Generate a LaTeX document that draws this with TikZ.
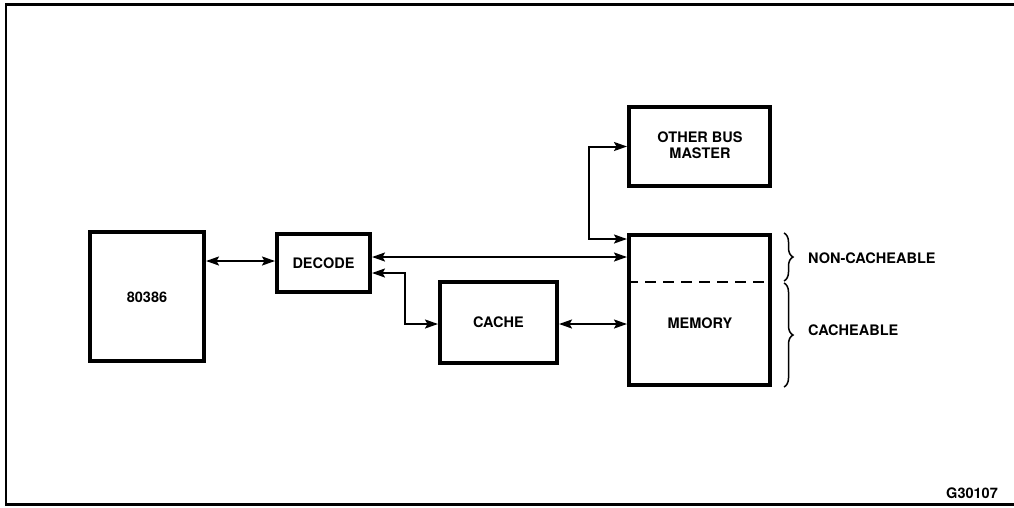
\documentclass[tikz,border=0pt]{standalone}
\usepackage{fontspec}
\setmainfont{TeX Gyre Heros}
\usetikzlibrary{arrows.meta,decorations.pathreplacing}
\tikzset{
  blk/.style={draw, line width=4pt, inner sep=0pt, align=center},
  conn/.style={line width=2pt, {Stealth[length=13pt,width=9pt,inset=2.5pt]}-{Stealth[length=13pt,width=9pt,inset=2.5pt]}},
  lbl/.style={font=\fontsize{14.5}{16.5}\selectfont\bfseries, inner sep=0pt, align=center},
  brc/.style={line width=1.5pt, decorate, decoration={brace, amplitude=9pt}},
  frame/.style={line width=2.8pt}
}
\begin{document}
\begin{tikzpicture}[x=1pt,y=-1pt]
\useasboundingbox (0,0) rectangle (1014,507);
\draw[frame] (1014,4.5) -- (6,4.5) -- (6,504.5) -- (1014,504.5);

\node[blk, minimum width=114pt, minimum height=129pt] (cpu) at (147,296.5) {};
\node[lbl] (cputxt) at (147,297) {80386};
\node[blk, minimum width=93pt, minimum height=58pt] (decode) at (323.5,263) {};
\node[lbl] (dectxt) at (323.5,263) {DECODE};
\node[blk, minimum width=117pt, minimum height=81pt] (cache) at (498.5,322.5) {};
\node[lbl] (cachetxt) at (498.5,322.5) {CACHE};
\node[blk, minimum width=141pt, minimum height=150pt] (mem) at (699.5,310) {};
\node[lbl] (memtxt) at (700,323) {MEMORY};
\node[blk, minimum width=141pt, minimum height=79pt] (obm) at (699.5,146.5) {};
\node[lbl] (obmtxt) at (700,145) {OTHER BUS\\MASTER};

\draw[line width=1.6pt, dash pattern=on 11pt off 7pt] ([yshift=-49pt]mem.north west) -- ([yshift=-49pt]mem.north east);

\draw[conn] ([yshift=2pt]decode.west) -- ([yshift=2pt]decode.west -| cpu.east);
\draw[conn] ([yshift=6pt]decode.east) -- ([yshift=6pt]decode.east -| mem.west);
\draw[conn] ([yshift=-10pt]decode.east) -- ++(33pt,0) |- ([yshift=-1.5pt]cache.west);
\draw[conn] ([yshift=-1.5pt]cache.east) -- ([yshift=-1.5pt]cache.east -| mem.west);
\draw[conn] ([yshift=-6pt]mem.north west) -- ++(-38pt,0) |- (obm.west);

\draw[brc] ([xshift=12pt]mem.north east) -- ([xshift=12pt,yshift=-48pt]mem.north east);
\draw[brc] ([xshift=12pt,yshift=-50pt]mem.north east) -- ([xshift=12pt]mem.south east);

\node[lbl, anchor=west] (nc) at (808,258) {NON-CACHEABLE};
\node[lbl, anchor=west] (ca) at (808,330) {CACHEABLE};
\node[lbl, anchor=east] (fig) at (998,493) {G30107};
\end{tikzpicture}
\end{document}
